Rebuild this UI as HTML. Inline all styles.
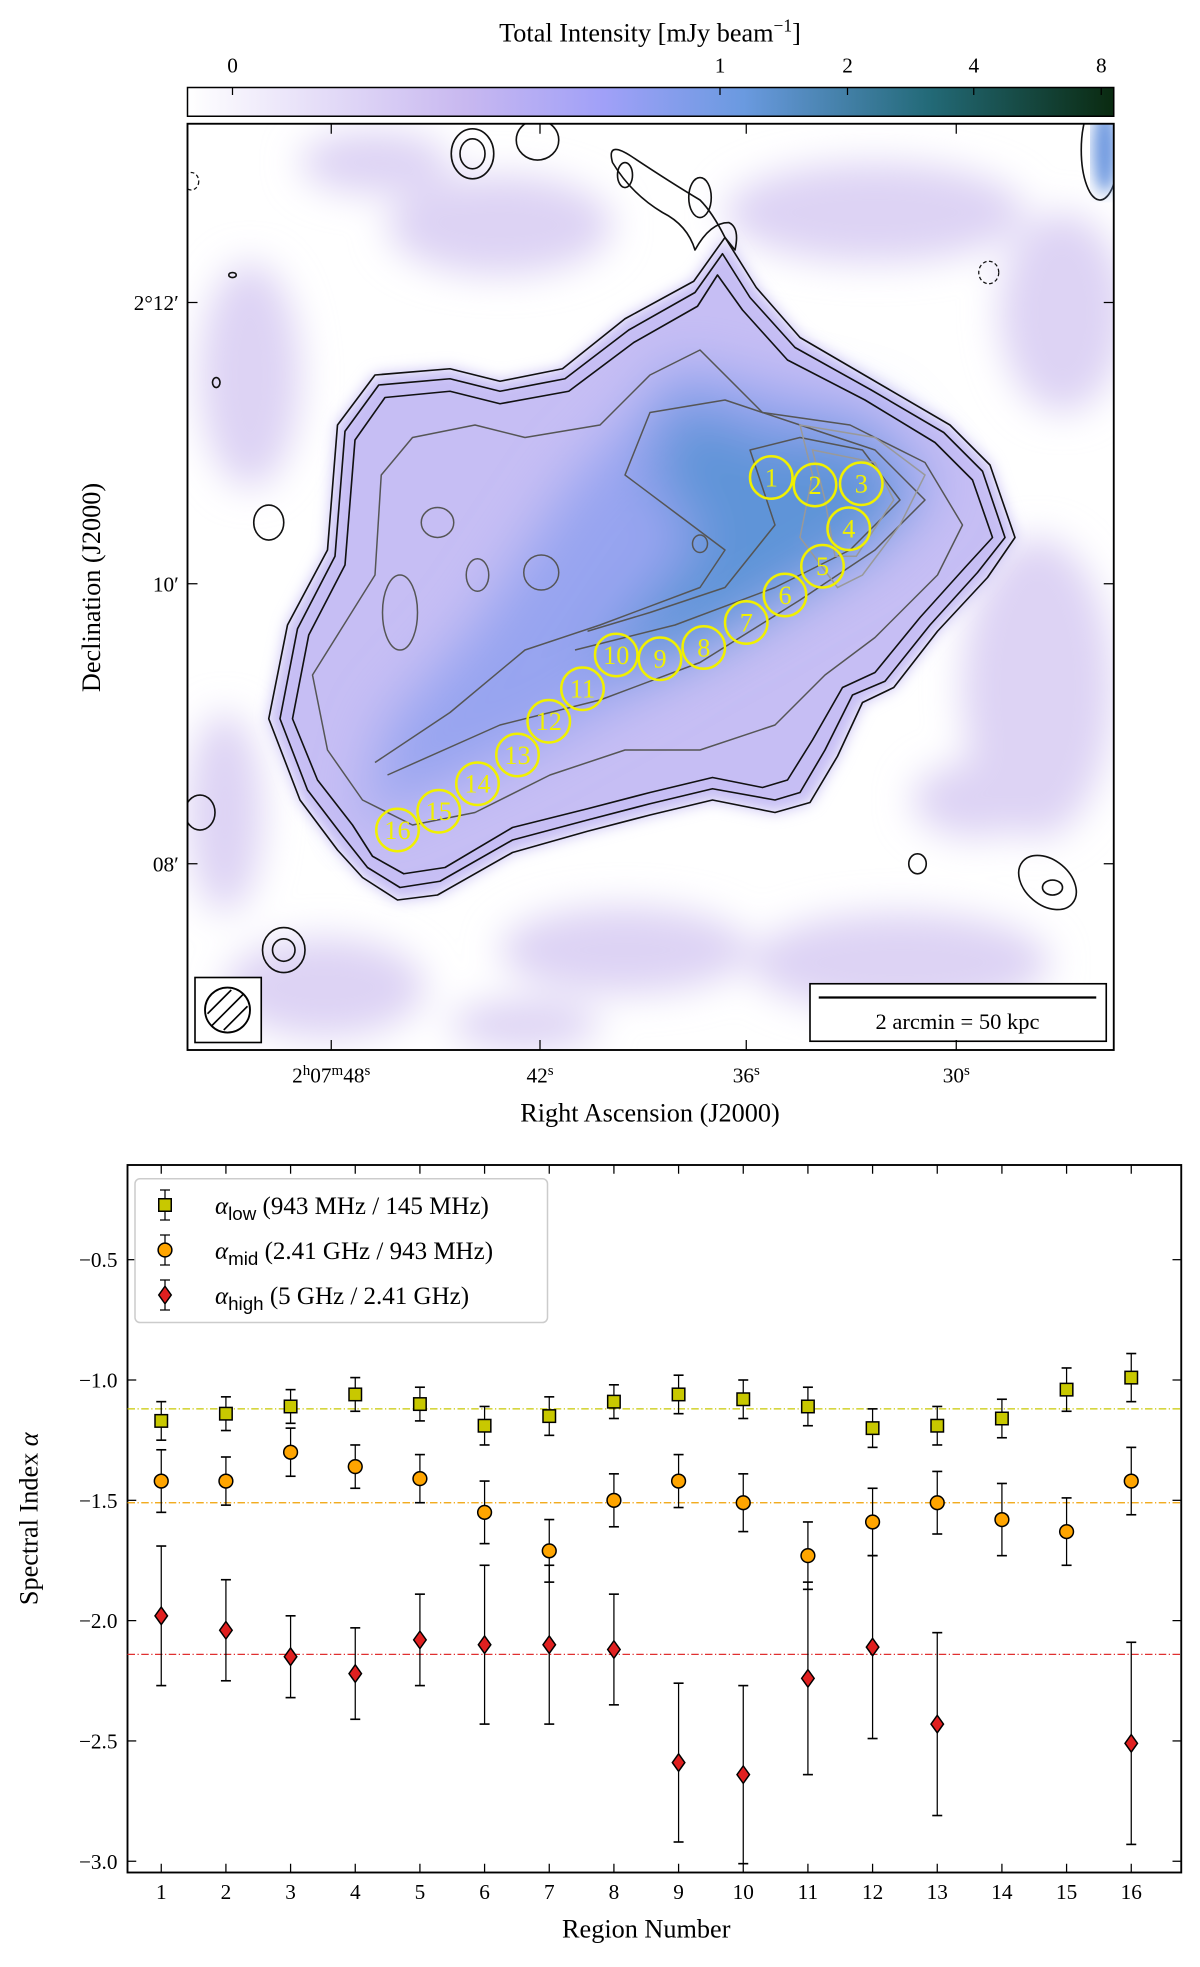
<!DOCTYPE html>
<html><head><meta charset="utf-8"><style>
html,body{margin:0;padding:0;background:#fff;}
svg{display:block;font-family:"Liberation Serif",serif;}
</style></head><body>
<svg width="1200" height="1967" viewBox="0 0 960 1573.6" xmlns="http://www.w3.org/2000/svg">
<defs>
<linearGradient id="cmap" x1="0" x2="1" y1="0" y2="0">
<stop offset="0" stop-color="#ffffff"/><stop offset="0.3" stop-color="#c8b8f0"/><stop offset="0.45" stop-color="#a0a0f8"/><stop offset="0.6" stop-color="#6a9ae0"/><stop offset="0.8" stop-color="#236a78"/><stop offset="1" stop-color="#0a2a10"/>
</linearGradient>
<filter id="blur6"><feGaussianBlur stdDeviation="6"/></filter>
<filter id="blur15"><feGaussianBlur stdDeviation="15"/></filter>
<filter id="blur22"><feGaussianBlur stdDeviation="22"/></filter>
<clipPath id="mapclip"><rect x="150" y="99" width="741" height="741"/></clipPath>
</defs>

<text x="520" y="33" font-size="21" text-anchor="middle">Total Intensity [mJy beam<tspan dy="-8" font-size="14">−1</tspan><tspan dy="8">]</tspan></text>
<rect x="150" y="70" width="741" height="23" fill="url(#cmap)" stroke="#000" stroke-width="1.2"/>
<g font-size="17" text-anchor="middle">
<line x1="186" y1="70" x2="186" y2="76" stroke="#000"/><text x="186" y="58">0</text>
<line x1="576" y1="70" x2="576" y2="76" stroke="#000"/><text x="576" y="58">1</text>
<line x1="678" y1="70" x2="678" y2="76" stroke="#000"/><text x="678" y="58">2</text>
<line x1="779" y1="70" x2="779" y2="76" stroke="#000"/><text x="779" y="58">4</text>
<line x1="881" y1="70" x2="881" y2="76" stroke="#000"/><text x="881" y="58">8</text>
</g>

<g clip-path="url(#mapclip)">
<rect x="150" y="99" width="741" height="741" fill="#fff"/>
<g filter="url(#blur15)" fill="#ddd3f4">
<ellipse cx="200" cy="300" rx="40" ry="90"/><ellipse cx="400" cy="180" rx="90" ry="40"/><ellipse cx="700" cy="170" rx="120" ry="40"/>
<ellipse cx="830" cy="550" rx="60" ry="120"/><ellipse cx="720" cy="770" rx="120" ry="40"/><ellipse cx="260" cy="790" rx="80" ry="40"/>
<ellipse cx="180" cy="650" rx="30" ry="80"/><ellipse cx="500" cy="760" rx="100" ry="35"/><ellipse cx="850" cy="250" rx="50" ry="80"/>
<ellipse cx="300" cy="130" rx="60" ry="25"/><ellipse cx="780" cy="640" rx="50" ry="30"/><ellipse cx="420" cy="820" rx="60" ry="20"/>
</g>
<path d="M270,680 L240,640 L215,575 L230,500 L262,440 L270,340 L300,300 L360,295 L400,305 L450,295 L500,255 L555,225 L580,190 L605,230 L640,270 L700,305 L760,340 L792,372 L812,430 L790,462 L750,505 L715,550 L690,562 L670,605 L648,642 L620,650 L570,640 L520,652 L470,665 L410,682 L350,716 L318,720 L290,702 Z" fill="#c6bef4" stroke="none" filter="url(#blur6)"/>
<g filter="url(#blur22)">
<path d="M290,660 L420,600 L520,545 L600,500 L650,470 L700,440 L750,390 L700,330 L620,310 L540,290 L500,340 L460,380 L420,440 L380,500 L310,580 Z" fill="#97a4f0"/>
<path d="M470,540 L560,520 L640,470 L700,430 L730,390 L680,350 L620,350 L540,320 L520,380 L560,430 L500,500 Z" fill="#5f94d8"/>
</g>
<g fill="none" stroke="#111" stroke-width="1.3" stroke-linejoin="round">
<path d="M270,680 L240,640 L215,575 L230,500 L262,440 L270,340 L300,300 L360,295 L400,305 L450,295 L500,255 L555,225 L580,190 L605,230 L640,270 L700,305 L760,340 L792,372 L812,430 L790,462 L750,505 L715,550 L690,562 L670,605 L648,642 L620,650 L570,640 L520,652 L470,665 L410,682 L350,716 L318,720 L290,702 Z"/>
<path d="M275,670 L246,632 L224,575 L238,503 L268,445 L276,345 L303,308 L360,303 L400,313 L452,303 L503,264 L556,234 L578,203 L600,238 L636,278 L697,312 L755,346 L786,377 L804,430 L782,458 L744,500 L708,545 L682,556 L660,600 L640,634 L620,640 L570,631 L520,643 L470,656 L410,672 L352,705 L320,710 L294,694 Z"/>
<path d="M282,660 L254,624 L234,575 L247,508 L276,452 L284,352 L308,318 L360,313 L400,323 L455,313 L507,274 L558,245 L574,220 L594,248 L630,288 L692,320 L748,354 L778,384 L794,430 L772,454 L736,494 L700,538 L674,550 L650,592 L630,624 L610,630 L570,622 L520,634 L470,647 L410,662 L356,694 L323,699 L298,685 Z"/>
<path d="M580,190 Q570,170 560,160 Q535,145 505,125 Q485,112 490,130 Q505,155 530,170 Q550,180 556,200 Q568,178 583,178 Q592,182 588,200 Z"/>
<ellipse cx="500" cy="140" rx="6" ry="10"/><ellipse cx="560" cy="158" rx="9" ry="16"/>
<ellipse cx="378" cy="123" rx="17" ry="20"/><ellipse cx="378" cy="123" rx="10" ry="12"/><ellipse cx="430" cy="112" rx="17" ry="16"/>
<ellipse cx="215" cy="418" rx="12" ry="14"/><ellipse cx="734" cy="691" rx="7" ry="8"/><ellipse cx="227" cy="760" rx="17" ry="18"/><ellipse cx="227" cy="760" rx="9" ry="9"/>
<ellipse cx="838" cy="706" rx="26" ry="18" transform="rotate(40 838 706)"/><ellipse cx="842" cy="710" rx="8" ry="6"/><ellipse cx="880" cy="120" rx="15" ry="40"/>
<ellipse cx="160" cy="650" rx="12" ry="14"/><ellipse cx="186" cy="220" rx="3" ry="2"/><ellipse cx="173" cy="306" rx="3" ry="4"/>
</g>
<g fill="none" stroke="#555" stroke-width="1.2" stroke-linejoin="round">
<path d="M290,640 L262,600 L250,540 L275,500 L300,460 L305,380 L330,350 L380,340 L420,350 L480,340 L520,300 L560,280 L610,330 L680,340 L740,370 L770,420 L750,460 L700,510 L660,540 L620,580 L560,600 L500,600 L440,620 L380,650 L330,660 Z"/>
<path d="M310,620 L400,580 L480,560 L560,530 L640,480 L700,440 L740,400 L700,360 L640,340 L580,320 L520,330 L500,380 L540,410 L580,440 L560,470 L480,500 L420,520 L360,570 L300,610"/>
<path d="M460,520 L540,500 L620,470 L680,440 L720,400 L690,360 L640,350 L600,360 L620,420 L580,470 L520,490 L470,505"/>
<ellipse cx="320" cy="490" rx="14" ry="30"/><ellipse cx="350" cy="418" rx="13" ry="12"/><ellipse cx="382" cy="460" rx="9" ry="13"/><ellipse cx="433" cy="458" rx="14" ry="14"/><ellipse cx="560" cy="435" rx="6" ry="7"/>
</g>
<g fill="none" stroke="#999" stroke-width="1.2">
<path d="M640,340 L700,350 L740,380 L720,420 L690,460 L670,470 L640,430 L650,380 Z"/>
<path d="M650,360 L700,370 L715,400 L685,445 L668,445 L660,400 Z"/>
</g>
<ellipse cx="884" cy="120" rx="10" ry="35" fill="#6f9ae0" filter="url(#blur6)"/>
<ellipse cx="791" cy="218" rx="8" ry="9" fill="none" stroke="#111" stroke-dasharray="3,2"/>
<ellipse cx="153" cy="145" rx="6" ry="7" fill="none" stroke="#111" stroke-dasharray="3,2"/>
</g>
<g fill="none" stroke="#f0f000" stroke-width="2" font-size="21" text-anchor="middle">
<circle cx="617" cy="382" r="17"/><text x="617" y="389" fill="#f0f000" stroke="none">1</text>
<circle cx="652" cy="388" r="17"/><text x="652" y="395" fill="#f0f000" stroke="none">2</text>
<circle cx="689" cy="387" r="17"/><text x="689" y="394" fill="#f0f000" stroke="none">3</text>
<circle cx="679" cy="423" r="17"/><text x="679" y="430" fill="#f0f000" stroke="none">4</text>
<circle cx="658" cy="453" r="17"/><text x="658" y="460" fill="#f0f000" stroke="none">5</text>
<circle cx="628" cy="476" r="17"/><text x="628" y="483" fill="#f0f000" stroke="none">6</text>
<circle cx="597" cy="498" r="17"/><text x="597" y="505" fill="#f0f000" stroke="none">7</text>
<circle cx="563" cy="518" r="17"/><text x="563" y="525" fill="#f0f000" stroke="none">8</text>
<circle cx="528" cy="527" r="17"/><text x="528" y="534" fill="#f0f000" stroke="none">9</text>
<circle cx="493" cy="524" r="17"/><text x="493" y="531" fill="#f0f000" stroke="none">10</text>
<circle cx="466" cy="551" r="17"/><text x="466" y="558" fill="#f0f000" stroke="none">11</text>
<circle cx="439" cy="577" r="17"/><text x="439" y="584" fill="#f0f000" stroke="none">12</text>
<circle cx="414" cy="604" r="17"/><text x="414" y="611" fill="#f0f000" stroke="none">13</text>
<circle cx="382" cy="627" r="17"/><text x="382" y="634" fill="#f0f000" stroke="none">14</text>
<circle cx="351" cy="649" r="17"/><text x="351" y="656" fill="#f0f000" stroke="none">15</text>
<circle cx="318" cy="664" r="17"/><text x="318" y="671" fill="#f0f000" stroke="none">16</text>
</g>
<g>
<rect x="156" y="782" width="53" height="52" fill="#fff" stroke="#000" stroke-width="1.3"/>
<ellipse cx="182" cy="808" rx="18" ry="18" fill="none" stroke="#000" stroke-width="1.5"/>
<line x1="169" y1="821" x2="195" y2="795" stroke="#000" stroke-width="1.3"/><line x1="166" y1="811" x2="185" y2="792" stroke="#000" stroke-width="1.3"/><line x1="179" y1="824" x2="198" y2="805" stroke="#000" stroke-width="1.3"/>
</g>
<g>
<rect x="648" y="787" width="237" height="46" fill="#fff" stroke="#000" stroke-width="1.3"/>
<line x1="655" y1="798" x2="877" y2="798" stroke="#000" stroke-width="1.8"/>
<text x="766" y="823" font-size="18" text-anchor="middle">2 arcmin = 50 kpc</text>
</g>
<rect x="150" y="99" width="741" height="741" fill="none" stroke="#000" stroke-width="1.5"/>
<g stroke="#000" stroke-width="1">
<line x1="150" y1="242" x2="158" y2="242"/><line x1="150" y1="467" x2="158" y2="467"/><line x1="150" y1="691" x2="158" y2="691"/>
<line x1="891" y1="242" x2="883" y2="242"/><line x1="891" y1="467" x2="883" y2="467"/><line x1="891" y1="691" x2="883" y2="691"/>
<line x1="265" y1="840" x2="265" y2="832"/><line x1="432" y1="840" x2="432" y2="832"/><line x1="597" y1="840" x2="597" y2="832"/><line x1="765" y1="840" x2="765" y2="832"/>
<line x1="265" y1="99" x2="265" y2="107"/><line x1="432" y1="99" x2="432" y2="107"/><line x1="597" y1="99" x2="597" y2="107"/><line x1="765" y1="99" x2="765" y2="107"/>
</g>
<g font-size="17" text-anchor="end">
<text x="143" y="248">2°12′</text><text x="143" y="473">10′</text><text x="143" y="697">08′</text>
</g>
<g font-size="17" text-anchor="middle">
<text x="265" y="866">2<tspan dy="-6" font-size="12">h</tspan><tspan dy="6">07</tspan><tspan dy="-6" font-size="12">m</tspan><tspan dy="6">48</tspan><tspan dy="-6" font-size="12">s</tspan></text>
<text x="432" y="866">42<tspan dy="-6" font-size="12">s</tspan></text>
<text x="597" y="866">36<tspan dy="-6" font-size="12">s</tspan></text>
<text x="765" y="866">30<tspan dy="-6" font-size="12">s</tspan></text>
</g>
<text x="520" y="897" font-size="21" text-anchor="middle">Right Ascension (J2000)</text>
<text transform="translate(80,470) rotate(-90)" font-size="21" text-anchor="middle">Declination (J2000)</text>

<g id="chart"></g>
</svg>
<script>
const regions = [1,2,3,4,5,6,7,8,9,10,11,12,13,14,15,16];
const lowVals = [-1.17,-1.14,-1.11,-1.06,-1.10,-1.19,-1.15,-1.09,-1.06,-1.08,-1.11,-1.20,-1.19,-1.16,-1.04,-0.99];
const lowErr  = [0.08,0.07,0.07,0.07,0.07,0.08,0.08,0.07,0.08,0.08,0.08,0.08,0.08,0.08,0.09,0.10];
const midVals = [-1.42,-1.42,-1.30,-1.36,-1.41,-1.55,-1.71,-1.50,-1.42,-1.51,-1.73,-1.59,-1.51,-1.58,-1.63,-1.42];
const midErr  = [0.13,0.10,0.10,0.09,0.10,0.13,0.13,0.11,0.11,0.12,0.14,0.14,0.13,0.15,0.14,0.14];
const highRegions = [1,2,3,4,5,6,7,8,9,10,11,12,13,16];
const highVals = [-1.98,-2.04,-2.15,-2.22,-2.08,-2.10,-2.10,-2.12,-2.59,-2.64,-2.24,-2.11,-2.43,-2.51];
const highErr  = [0.29,0.21,0.17,0.19,0.19,0.33,0.33,0.23,0.33,0.37,0.40,0.38,0.38,0.42];
const meanLines = [-1.12,-1.51,-2.14];
const yTicks = [-0.5,-1.0,-1.5,-2.0,-2.5,-3.0];
const yTickLabels = ["−0.5","−1.0","−1.5","−2.0","−2.5","−3.0"];

const NS='http://www.w3.org/2000/svg';
const g=document.getElementById('chart');
const L=102,R=945,T=932,B=1498;
function xs(r){return 129+(r-1)*(905-129)/15;}
function ys(v){return 1104+(-1-v)*192.5;}
function mk(tag,attrs,parent){const e=document.createElementNS(NS,tag);for(const k in attrs)e.setAttribute(k,attrs[k]);(parent||g).appendChild(e);return e;}

let frame=mk('rect',{x:L,y:T,width:R-L,height:B-T,fill:'none',stroke:'#000','stroke-width':1.5});



yTicks.forEach((v,i)=>{
  mk('line',{x1:L,y1:ys(v),x2:L+7,y2:ys(v),stroke:'#000'});
  mk('line',{x1:R,y1:ys(v),x2:R-7,y2:ys(v),stroke:'#000'});
  const t=mk('text',{x:L-8,y:ys(v)+6,'font-size':17,'text-anchor':'end'});
  t.textContent=yTickLabels[i];
  
  
});
regions.forEach(r=>{
  mk('line',{x1:xs(r),y1:B,x2:xs(r),y2:B-7,stroke:'#000'});
  mk('line',{x1:xs(r),y1:T,x2:xs(r),y2:T+7,stroke:'#000'});
  const t=mk('text',{x:xs(r),y:B+21,'font-size':17,'text-anchor':'middle'});
  t.textContent=r;
  
  
});
const meanCols=['#c8c800','#f0a000','#e03030'];
meanLines.forEach((v,i)=>{
  const l=mk('line',{x1:L,y1:ys(v),x2:R,y2:ys(v),stroke:meanCols[i],'stroke-width':1,'stroke-dasharray':'6,2,1,2'});
  
  
});
function errbar(x,v,e){
  mk('line',{x1:x,y1:ys(v+e),x2:x,y2:ys(v-e),stroke:'#000','stroke-width':1});
  mk('line',{x1:x-4,y1:ys(v+e),x2:x+4,y2:ys(v+e),stroke:'#000','stroke-width':1.3});
  mk('line',{x1:x-4,y1:ys(v-e),x2:x+4,y2:ys(v-e),stroke:'#000','stroke-width':1.3});
}
function square(x,y){return mk('rect',{x:x-5,y:y-5,width:10,height:10,fill:'#c8c800',stroke:'#000','stroke-width':1.2});}
function circ(x,y){return mk('circle',{cx:x,cy:y,r:5.5,fill:'#ffa500',stroke:'#000','stroke-width':1.2});}
function diam(x,y){return mk('polygon',{points:`${x},${y-7} ${x+5},${y} ${x},${y+7} ${x-5},${y}`,fill:'#e02020',stroke:'#000','stroke-width':1.2});}

regions.forEach((r,i)=>{errbar(xs(r),lowVals[i],lowErr[i]);const m=square(xs(r),ys(lowVals[i]));
  
  });
regions.forEach((r,i)=>{errbar(xs(r),midVals[i],midErr[i]);const m=circ(xs(r),ys(midVals[i]));
  
  });
highRegions.forEach((r,i)=>{errbar(xs(r),highVals[i],highErr[i]);const m=diam(xs(r),ys(highVals[i]));
  
  });

const lg=mk('g',{});


mk('rect',{x:108,y:943,width:330,height:115,rx:4,fill:'#fff',stroke:'#ccc','stroke-width':1.2},lg);
const legY=[964,1000,1036];
const legLabels=[['low','(943 MHz / 145 MHz)'],['mid','(2.41 GHz / 943 MHz)'],['high','(5 GHz / 2.41 GHz)']];
legY.forEach((y,i)=>{
  mk('line',{x1:132,y1:y-12,x2:132,y2:y+12,stroke:'#000'},lg);
  mk('line',{x1:128,y1:y-12,x2:136,y2:y-12,stroke:'#000'},lg);
  mk('line',{x1:128,y1:y+12,x2:136,y2:y+12,stroke:'#000'},lg);
  const m=[square,circ,diam][i](132,y);lg.appendChild(m);
  const t=mk('text',{x:172,y:y+7,'font-size':20},lg);
  t.innerHTML='<tspan font-style="italic">α</tspan><tspan dy="5" font-size="15" font-family="Liberation Sans, sans-serif">'+legLabels[i][0]+'</tspan><tspan dy="-5"> '+legLabels[i][1]+'</tspan>';
  
  
});
const xt=mk('text',{x:517,y:1550,'font-size':21,'text-anchor':'middle'});
xt.textContent='Region Number';


const yt=mk('text',{transform:'translate(30,1215) rotate(-90)','font-size':21,'text-anchor':'middle'});
yt.innerHTML='Spectral Index <tspan font-style="italic">α</tspan>';


</script>
</body></html>
